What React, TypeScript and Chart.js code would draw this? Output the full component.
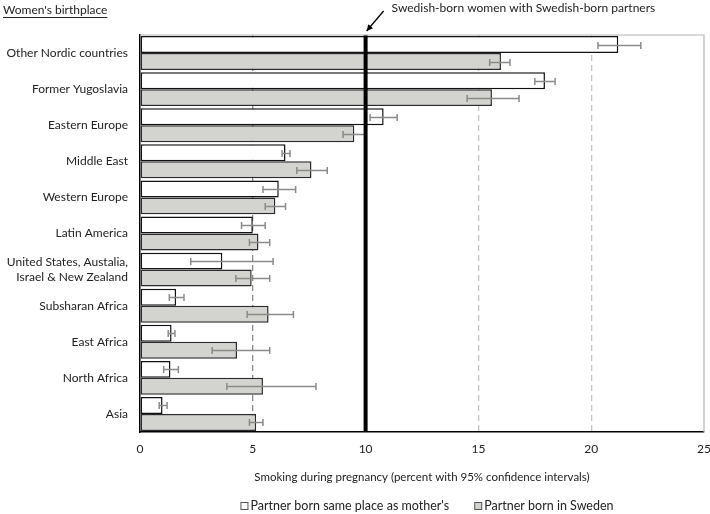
import React, { useEffect, useRef } from 'react';
import { Chart, registerables } from 'chart.js';

Chart.register(...registerables);

const FONT_FAMILY = 'Lato';
const TEXT_COLOR = '#222222';

const categories: (string | string[])[] = [
  'Other Nordic countries',
  'Former Yugoslavia',
  'Eastern Europe',
  'Middle East',
  'Western Europe',
  'Latin America',
  ['United States, Austalia,', 'Israel & New Zealand'],
  'Subsharan Africa',
  'East Africa',
  'North Africa',
  'Asia',
];

const seriesNames = ["Partner born same place as mother's", 'Partner born in Sweden'];

const sameValues = [21.2, 17.95, 10.8, 6.45, 6.15, 5.0, 3.65, 1.6, 1.4, 1.35, 1.0];
const sameLower = [20.3, 17.5, 10.2, 6.3, 5.45, 4.5, 2.25, 1.3, 1.25, 1.05, 0.85];
const sameUpper = [22.2, 18.4, 11.4, 6.65, 6.9, 5.55, 5.9, 1.95, 1.55, 1.7, 1.2];

const swedenValues = [16.0, 15.6, 9.5, 7.6, 6.0, 5.25, 4.95, 5.7, 4.3, 5.45, 5.15];
const swedenLower = [15.5, 14.5, 9.0, 6.95, 5.55, 4.85, 4.25, 4.75, 3.2, 3.85, 4.85];
const swedenUpper = [16.4, 16.8, 10.0, 8.3, 6.45, 5.75, 5.75, 6.8, 5.75, 7.8, 5.45];

const xTickValues = [0, 5, 10, 15, 20, 25];
const referenceValue = 10;
const referenceLabel = 'Swedish-born women with Swedish-born partners';
const yAxisTitle = "Women's birthplace";
const xAxisTitle = 'Smoking during pregnancy (percent with 95% confidence intervals)';

const seriesFill = ['#ffffff', '#d3d3cf'];
const seriesBorder = ['#111111', '#2a2a2a'];
const lowers = [sameLower, swedenLower];
const uppers = [sameUpper, swedenUpper];

const font = (size: number) => `${size}px ${FONT_FAMILY}`;

const decorPlugin = {
  id: 'decor',
  afterDatasetsDraw(chart: any) {
    const { ctx, chartArea } = chart;
    const xs = chart.scales.x;
    // error bars
    ctx.save();
    ctx.strokeStyle = '#8a8a8a';
    ctx.lineWidth = 1.5;
    for (let d = 0; d < 2; d++) {
      const meta = chart.getDatasetMeta(d);
      meta.data.forEach((bar: any, j: number) => {
        const y = Math.round(bar.y) + 0.5;
        const x1 = xs.getPixelForValue(lowers[d][j]);
        const x2 = xs.getPixelForValue(uppers[d][j]);
        ctx.beginPath();
        ctx.moveTo(x1, y);
        ctx.lineTo(x2, y);
        ctx.moveTo(x1, y - 3.5);
        ctx.lineTo(x1, y + 3.5);
        ctx.moveTo(x2, y - 3.5);
        ctx.lineTo(x2, y + 3.5);
        ctx.stroke();
      });
    }
    ctx.restore();
    // reference line
    const rx = xs.getPixelForValue(referenceValue);
    ctx.save();
    ctx.strokeStyle = '#000';
    ctx.lineWidth = 4;
    ctx.beginPath();
    ctx.moveTo(rx, chartArea.top);
    ctx.lineTo(rx, chartArea.bottom);
    ctx.stroke();
    ctx.restore();
  },
  afterDraw(chart: any) {
    const { ctx, chartArea } = chart;
    const xs = chart.scales.x;
    ctx.save();
    // top/right frame
    ctx.strokeStyle = '#b4b4b4';
    ctx.lineWidth = 1.2;
    ctx.beginPath();
    ctx.moveTo(chartArea.left, chartArea.top);
    ctx.lineTo(chartArea.right, chartArea.top);
    ctx.lineTo(chartArea.right, chartArea.bottom);
    ctx.stroke();

    ctx.fillStyle = TEXT_COLOR;
    ctx.font = font(12);
    ctx.textBaseline = 'middle';
    ctx.textAlign = 'left';
    // y axis title (underlined)
    ctx.fillText(yAxisTitle, 3, 10);
    const tw = ctx.measureText(yAxisTitle).width;
    ctx.strokeStyle = TEXT_COLOR;
    ctx.lineWidth = 1;
    ctx.beginPath();
    ctx.moveTo(3, 17.5);
    ctx.lineTo(3 + tw, 17.5);
    ctx.stroke();

    // annotation
    const rx = xs.getPixelForValue(referenceValue);
    ctx.font = font(12);
    ctx.fillText(referenceLabel, rx + 26, 8);
    const ax1 = rx + 18, ay1 = 11, ax2 = rx + 1, ay2 = 31;
    ctx.strokeStyle = '#000';
    ctx.fillStyle = '#000';
    ctx.lineWidth = 1.3;
    ctx.beginPath();
    ctx.moveTo(ax1, ay1);
    ctx.lineTo(ax2, ay2);
    ctx.stroke();
    const ang = Math.atan2(ay2 - ay1, ax2 - ax1);
    ctx.beginPath();
    ctx.moveTo(ax2, ay2);
    ctx.lineTo(ax2 - 7 * Math.cos(ang - 0.45), ay2 - 7 * Math.sin(ang - 0.45));
    ctx.lineTo(ax2 - 7 * Math.cos(ang + 0.45), ay2 - 7 * Math.sin(ang + 0.45));
    ctx.closePath();
    ctx.fill();

    // legend
    ctx.font = font(12.5);
    const w0 = ctx.measureText(seriesNames[0]).width;
    const w1 = ctx.measureText(seriesNames[1]).width;
    const total = 10 + w0 + 25 + 10 + w1;
    let lx = (chartArea.left + chartArea.right) / 2 + 5 - total / 2;
    const ly = 506;
    [w0, w1].forEach((w, i) => {
      ctx.fillStyle = seriesFill[i];
      ctx.fillRect(lx + 0.5, ly - 3.5, 7, 7);
      ctx.strokeStyle = '#555';
      ctx.lineWidth = 1;
      ctx.strokeRect(lx + 0.5, ly - 3.5, 7, 7);
      ctx.fillStyle = TEXT_COLOR;
      ctx.fillText(seriesNames[i], lx + 10, ly);
      lx += 10 + w + 25;
    });
    ctx.restore();
  },
};

export default function App() {
  const canvasRef = useRef<HTMLCanvasElement | null>(null);

  useEffect(() => {
    if (!canvasRef.current) return;
    const chart = new Chart(canvasRef.current, {
      type: 'bar',
      data: {
        labels: categories as any,
        datasets: [
          {
            label: seriesNames[0],
            data: sameValues,
            backgroundColor: seriesFill[0],
            borderColor: seriesBorder[0],
            borderWidth: 1.5,
            borderSkipped: false,
            categoryPercentage: 0.94,
            barPercentage: 1,
          },
          {
            label: seriesNames[1],
            data: swedenValues,
            backgroundColor: seriesFill[1],
            borderColor: seriesBorder[1],
            borderWidth: 1.5,
            borderSkipped: false,
            categoryPercentage: 0.94,
            barPercentage: 1,
          },
        ],
      },
      options: {
        indexAxis: 'y',
        responsive: false,
        animation: false,
        layout: { padding: { top: 35, right: 6, left: 0, bottom: 30 } },
        plugins: {
          legend: { display: false },
          tooltip: { enabled: false },
        },
        scales: {
          x: {
            min: 0,
            max: 25,
            afterBuildTicks: (scale: any) => {
              scale.ticks = xTickValues.map((v) => ({ value: v }));
            },
            ticks: {
              font: { family: FONT_FAMILY, size: 12 },
              color: TEXT_COLOR,
              padding: 10,
              maxRotation: 0,
            },
            grid: {
              drawTicks: false,
              lineWidth: 1.3,
              color: (c: any) => {
                const v = c.tick ? c.tick.value : null;
                if (v === 5) return '#8a8a8a';
                if (v === 15 || v === 20) return '#c4c4c4';
                return 'rgba(0,0,0,0)';
              },
            },
            border: { display: true, color: '#000', width: 1.5, dash: [6, 4] },
            title: {
              display: true,
              text: xAxisTitle,
              font: { family: FONT_FAMILY, size: 11.5 },
              color: TEXT_COLOR,
              padding: { top: 0, bottom: 0 },
            },
            afterFit: (scale: any) => {
              scale.height = 52;
              scale.paddingRight = 0;
              scale.paddingLeft = 0;
            },
          },
          y: {
            grid: { display: false, drawTicks: false },
            border: { display: true, color: '#000', width: 1.5 },
            ticks: {
              font: { family: FONT_FAMILY, size: 12, lineHeight: 1.25 },
              color: TEXT_COLOR,
              padding: 12,
              autoSkip: false,
            },
            afterFit: (scale: any) => {
              scale.width = 140;
              scale.paddingTop = 0;
              scale.paddingBottom = 0;
            },
          },
        },
      },
      plugins: [decorPlugin],
    });
    return () => chart.destroy();
  }, []);

  return (
    <div style={{ position: 'absolute', left: 0, top: 0, width: 710, height: 514, background: '#fff' }}>
      <canvas ref={canvasRef} width={710} height={514} />
    </div>
  );
}
